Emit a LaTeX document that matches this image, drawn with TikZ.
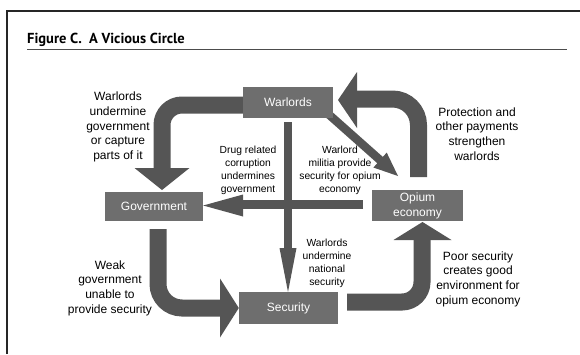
\documentclass[tikz,border=0pt]{standalone}
\usepackage{fontspec}
\setmainfont{Liberation Sans}
\newfontfamily\titlefont{PT Sans}
\usetikzlibrary{calc,backgrounds}
\definecolor{boxgray}{HTML}{6E6E6E}
\definecolor{arrgray}{HTML}{555555}
\begin{document}
\begin{tikzpicture}[x=1pt,y=-1pt,
  box/.style={fill=boxgray, text=white, inner sep=0pt, align=center, font=\fontsize{12}{15}\selectfont},
  lab/.style={align=center, inner sep=0pt, font=\fontsize{12}{14.6}\selectfont},
  sm/.style={align=center, inner sep=0pt, font=\fontsize{10.3}{13}\selectfont},
  bigshaft/.style={draw=arrgray, line width=17pt, line cap=butt},
  thinshaft/.style={draw=arrgray, line width=8.4pt, line cap=butt},
  head/.style={fill=arrgray}]
\useasboundingbox (0,0) rectangle (580,354);
% frame
\draw[line width=1.6pt, black!85] (7,354) -- (7,11) -- (580,11);
\draw[line width=0.8pt, black!70] (27,49) -- (567,49);
\node[anchor=base west, inner sep=0pt, font=\titlefont\bfseries\fontsize{14.5}{16}\selectfont] (title) at (27,43) {Figure C.\ \ A Vicious Circle};
% boxes
\node[box, minimum width=90pt, minimum height=31pt] (W) at (288,102.5) {Warlords};
\node[box, minimum width=98pt, minimum height=29pt] (G) at (154,206.5) {Government};
\node[box, minimum width=91pt, minimum height=31pt] (O) at (417.5,205.5) {Opium\\economy};
\node[box, minimum width=99pt, minimum height=32pt] (S) at (288.5,308) {Security};
% labels
\node[lab] (l1) at (118,127) {Warlords\\undermine\\government\\or capture\\parts of it};
\node[sm] (l2) at (248,170) {Drug related\\corruption\\undermines\\government};
\node[sm] (l3) at (340,170) {Warlord\\militia provide\\security for opium\\economy};
\node[lab] (l4) at (477,134) {Protection and\\other payments\\strengthen\\warlords};
\node[lab] (l5) at (110,288) {Weak\\government\\unable to\\provide security};
\node[sm] (l6) at (327,263) {Warlords\\undermine\\national\\security};
\node[lab] (l7) at (478,279) {Poor security\\creates good\\environment for\\opium economy};
% connectors
\begin{scope}[on background layer]
  % Warlords -> Government (big curved)
  \coordinate (a1s) at ($(W.west)+(0,2.5)$);
  \coordinate (a1b) at (162,169);
  \coordinate (a1t) at (162,190);
  \draw[bigshaft, rounded corners=20pt] (a1s) -| (a1b);
  \fill[head] (134.5,168) -- (189.5,168) -- (a1t) -- cycle;
  % Government -> Security (big curved)
  \coordinate (a2s) at (158,229);
  \coordinate (a2b) at (221,308);
  \coordinate (a2t) at ($(S.west)+(0,0)$);
  \draw[bigshaft, rounded corners=24pt] (a2s) |- (a2b);
  \fill[head] (220,278.5) -- (220,337.5) -- (a2t) -- cycle;
  % Security -> Opium economy (big curved)
  \coordinate (a3s) at (347,302);
  \coordinate (a3b) at (422,239);
  \coordinate (a3t) at (422.5,222);
  \draw[bigshaft, rounded corners=20pt] (a3s) -| (a3b);
  \fill[head] (393.5,240) -- (451.5,240) -- (a3t) -- cycle;
  % Opium economy -> Warlords (big curved)
  \coordinate (a4s) at (418.5,177);
  \coordinate (a4b) at (356,99);
  \coordinate (a4t) at (338,100);
  \draw[bigshaft, rounded corners=26pt] (a4s) |- (a4b);
  \fill[head] (357,72) -- (357,128) -- (a4t) -- cycle;
  % Warlords -> Security (thin vertical)
  \coordinate (t1s) at ($(W.south)+(0,4)$);
  \coordinate (t1b) at (288,249);
  \coordinate (t1t) at (288,292);
  \draw[thinshaft] (t1s) -- (t1b);
  \fill[head] (279.5,248) -- (296.5,248) -- (t1t) -- cycle;
  % Opium economy -> Government (thin horizontal)
  \coordinate (t2s) at (363,204.5);
  \coordinate (t2b) at (242,204.5);
  \coordinate (t2t) at ($(G.east)+(0,-1)$);
  \draw[thinshaft] (t2s) -- (t2b);
  \fill[head] (243,194.5) -- (243,216.5) -- (t2t) -- cycle;
  % Warlords -> Opium economy (thin diagonal)
  \coordinate (t3s) at (326,112);
  \coordinate (t3t) at (398,176);
  \coordinate (t3b) at ($(t3t)!24pt!(t3s)$);
  \draw[thinshaft] (t3s) -- ($(t3b)!1pt!(t3t)$);
  \fill[head] (t3t) -- ($(t3b)!10pt!90:(t3t)$) -- ($(t3b)!10pt!-90:(t3t)$) -- cycle;
\end{scope}
\end{tikzpicture}
\end{document}
